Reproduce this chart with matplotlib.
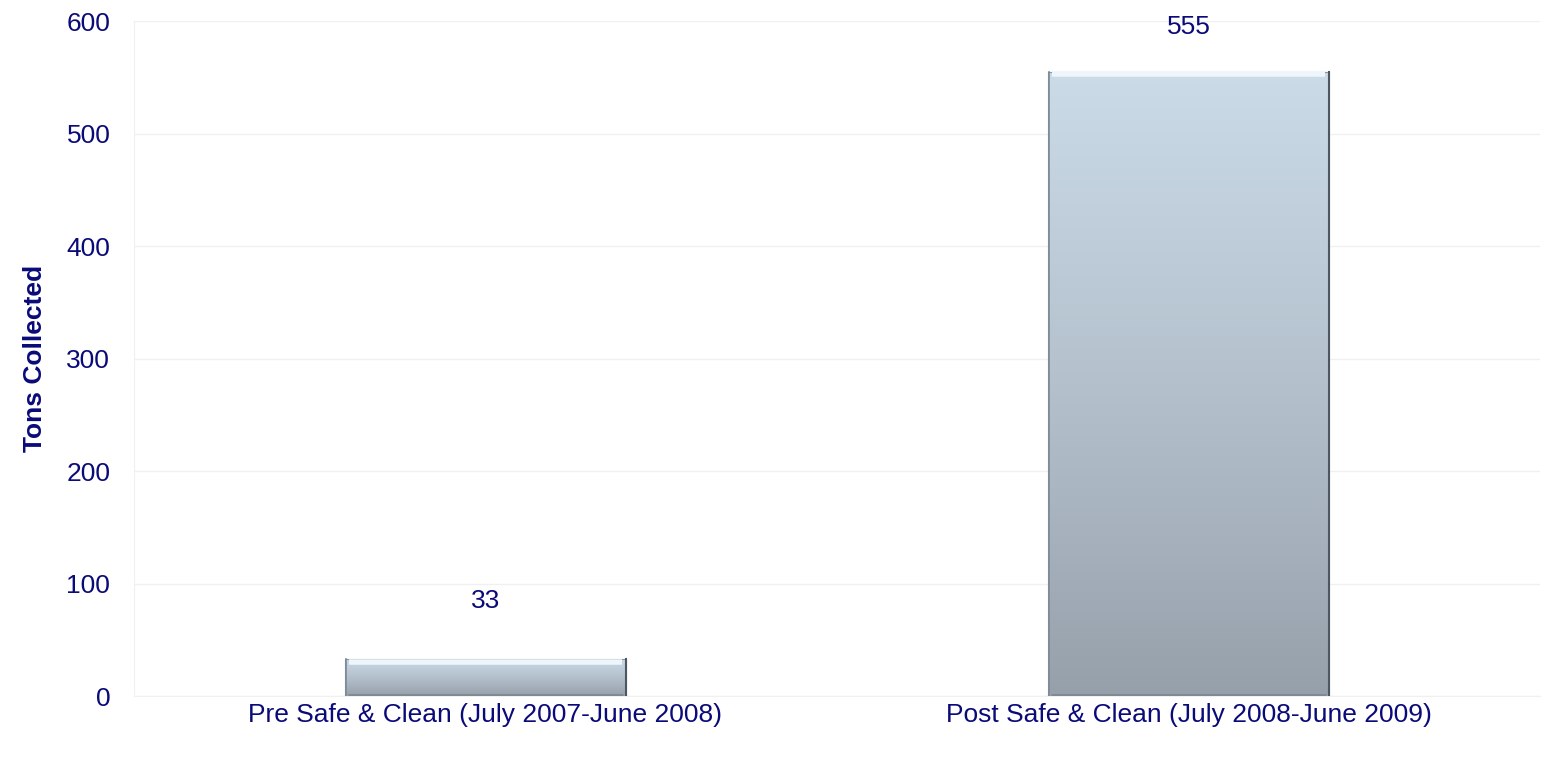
import matplotlib.pyplot as plt
import numpy as np
from matplotlib.colors import LinearSegmentedColormap

# Donnees
categories = ['Pre Safe & Clean (July 2007-June 2008)', 'Post Safe & Clean (July 2008-June 2009)']
tons = [33, 555]
yticks = [0, 100, 200, 300, 400, 500, 600]

# decalage des etiquettes au-dessus des barres (points)
decalage_etiquettes = [42, 32]

NAVY = '#0a0a78'
plt.rcParams['font.family'] = ['Liberation Sans', 'DejaVu Sans']

fig = plt.figure(figsize=(15.47, 7.64), dpi=100)
ax = fig.add_axes([0.0866, 0.089, 0.9089, 0.8835])

x = np.arange(len(categories))
bars = ax.bar(x, tons, width=0.40, color='none', edgecolor='#8a96a3', linewidth=0.8, zorder=3)

# degrade vertical dans chaque barre
cmap = LinearSegmentedColormap.from_list('barre', ['#96a0ab', '#b4c1cd', '#cbdbe8'])
grad = np.linspace(0, 1, 256).reshape(-1, 1)
for b in bars:
    x0, y0 = b.get_x(), b.get_y()
    w, h = b.get_width(), b.get_height()
    im = ax.imshow(grad, cmap=cmap, aspect='auto', origin='lower',
                   extent=(x0, x0 + w, y0, y0 + h), zorder=2)
    im.set_clip_path(b)
    # reflet en haut, bords sombres a droite et en bas
    ax.plot([x0 + 0.006, x0 + w - 0.006], [y0 + h - 2.5, y0 + h - 2.5], color='#eef5fb', lw=4, zorder=4,
            solid_capstyle='butt')
    ax.plot([x0 + 0.004, x0 + w - 0.004], [y0 + 1.2, y0 + 1.2], color='#7f8994', lw=2, zorder=4,
            solid_capstyle='butt')
    ax.plot([x0 + w, x0 + w], [y0, y0 + h], color='#4d5763', lw=1.5, zorder=4)
    ax.plot([x0 + 0.002, x0 + 0.002], [y0, y0 + h], color='#7d8995', lw=1.2, zorder=4)
    # ombre sous la barre
    ax.plot([x0 - 0.003, x0 + w + 0.003], [y0 - 2, y0 - 2], color='#c9c9c9', lw=3, alpha=0.6, zorder=1.5)

for b, v, d in zip(bars, tons, decalage_etiquettes):
    ax.annotate(str(v), xy=(b.get_x() + b.get_width() / 2, v), xytext=(0, d),
                textcoords='offset points', ha='center', va='center',
                fontsize=19, color=NAVY)

ax.set_xlim(-0.5, 1.5)
ax.set_ylim(0, 600)
ax.set_yticks(yticks)
ax.set_xticks(x)
ax.set_xticklabels(categories)
ax.tick_params(axis='both', length=0, labelsize=19, labelcolor=NAVY)
ax.tick_params(axis='x', pad=5)
ax.tick_params(axis='y', pad=17)
ax.set_ylabel('Tons Collected', fontsize=19, fontweight='bold', color=NAVY, labelpad=14)

ax.grid(axis='y', color='#f0f0f0', lw=1, zorder=0)
ax.set_axisbelow(True)
for s in ['top', 'right']:
    ax.spines[s].set_visible(False)
ax.spines['left'].set_color('#f0f0f0')
ax.spines['bottom'].set_color('#f0f0f0')

fig.savefig('out.png', dpi=100)
